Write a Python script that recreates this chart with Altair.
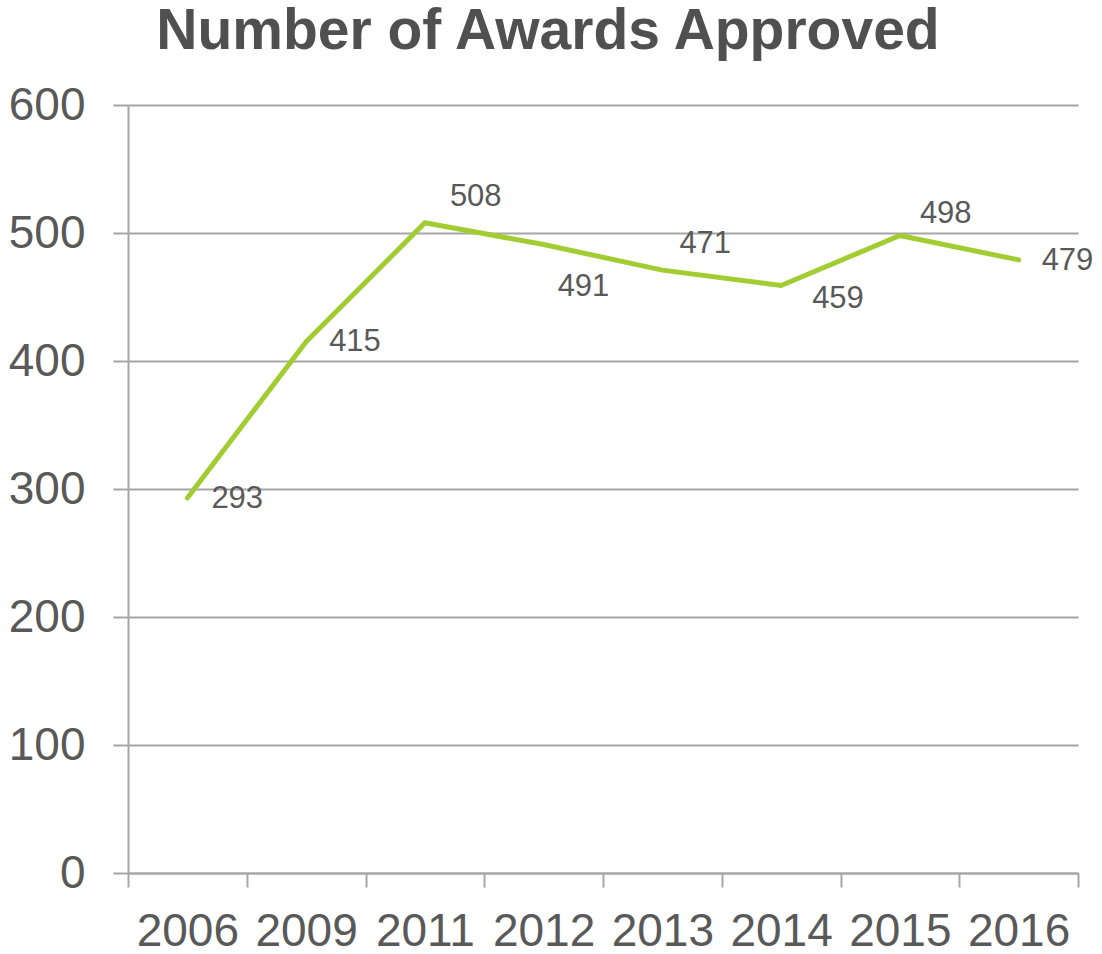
import altair as alt
import pandas as pd

years = ["2006", "2009", "2011", "2012", "2013", "2014", "2015", "2016"]
awards = [293, 415, 508, 491, 471, 459, 498, 479]

df = pd.DataFrame({"year": years, "awards": awards})

# label placement (pixel offsets from the point) per year, Excel-style
label_dx = [24, 23, 25, 14, 17, 31, 20, 23]
label_dy = [1, 0, -26, 42, -26, 14, -22, 1]

TEXT = "#595959"
GRID = "#A6A6A6"
LINE = "#A2CD32"

x_enc = alt.X(
    "year:O",
    sort=years,
    bandPosition=0.5,
    scale=alt.Scale(type="band", paddingInner=0, paddingOuter=0),
    axis=alt.Axis(
        title=None,
        labelFontSize=46,
        labelColor=TEXT,
        labelFont="Liberation Sans",
        labelPadding=22,
        labelAngle=0,
        tickBand="extent",
        tickSize=14,
        tickWidth=2,
        tickColor=GRID,
        domainColor=GRID,
        domainWidth=2,
        grid=False,
        labelOverlap=False,
    ),
)
y_enc = alt.Y(
    "awards:Q",
    scale=alt.Scale(domain=[0, 600], nice=False),
    axis=alt.Axis(
        title=None,
        values=[0, 100, 200, 300, 400, 500, 600],
        labelFontSize=46,
        labelColor=TEXT,
        labelFont="Liberation Sans",
        labelPadding=28,
        tickSize=15,
        tickWidth=2,
        tickColor=GRID,
        domainColor=GRID,
        domainWidth=2,
        grid=True,
        gridColor=GRID,
        gridWidth=2,
    ),
)

line = alt.Chart(df).mark_line(
    color=LINE, strokeWidth=5, strokeCap="round", strokeJoin="round"
).encode(x=x_enc, y=y_enc)

labels = []
for yr, dx, dy in zip(years, label_dx, label_dy):
    labels.append(
        alt.Chart(df)
        .transform_filter(alt.datum.year == yr)
        .mark_text(
            align="left",
            baseline="middle",
            dx=dx,
            dy=dy,
            fontSize=31,
            font="Liberation Sans",
            color=TEXT,
        )
        .encode(
            x=alt.X("year:O", sort=years, bandPosition=0.5),
            y=alt.Y("awards:Q"),
            text=alt.Text("awards:Q"),
        )
    )

chart = (
    alt.layer(line, *labels)
    .properties(
        width=950,
        height=768,
        background="white",
        title=alt.TitleParams(
            "Number of Awards Approved",
            fontSize=57,
            fontWeight="bold",
            font="Liberation Sans",
            color="#505050",
            anchor="middle",
            frame="group",
            dx=-55,
            dy=54,
            baseline="alphabetic",
            offset=30,
        ),
        autosize=alt.AutoSizeParams(type="none"),
        padding={"left": 128, "top": 105, "right": 24, "bottom": 81},
    )
    .configure_view(stroke="transparent", strokeWidth=0)
)

chart.save("out.html", embed_options={"renderer": "svg", "actions": False})
